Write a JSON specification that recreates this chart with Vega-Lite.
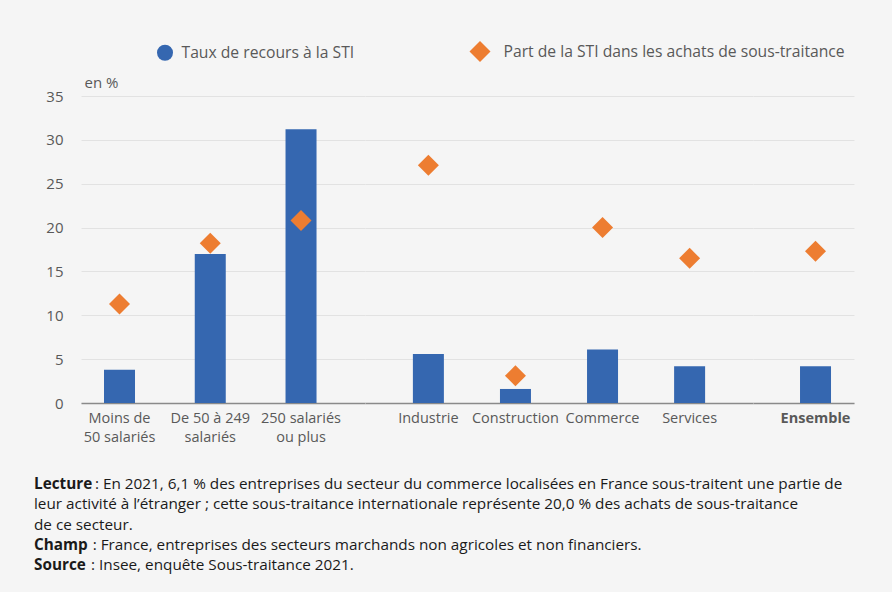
{
  "$schema": "https://vega.github.io/schema/vega-lite/v6.json",
  "background": "#f5f5f5",
  "padding": {"left": 34, "top": 40, "right": 38, "bottom": 20},
  "config": {
    "font": "Open Sans",
    "view": {"stroke": null},
    "axis": {"labelFont": "Open Sans", "titleFont": "Open Sans", "labelColor": "#595959", "titleColor": "#595959", "gridColor": "#e2e2e2", "gridWidth": 1},
    "legend": {"labelFont": "Open Sans", "symbolSize": 441, "labelLimit": 600}
  },
  "datasets": {
    "d": [
      {"group": "g1", "cat": "Moins de|50 salariés", "serie": "Taux de recours à la STI", "value": 3.8},
      {"group": "g1", "cat": "Moins de|50 salariés", "serie": "Part de la STI dans les achats de sous-traitance", "value": 11.3},
      {"group": "g1", "cat": "De 50 à 249|salariés", "serie": "Taux de recours à la STI", "value": 17.0},
      {"group": "g1", "cat": "De 50 à 249|salariés", "serie": "Part de la STI dans les achats de sous-traitance", "value": 18.2},
      {"group": "g1", "cat": "250 salariés|ou plus", "serie": "Taux de recours à la STI", "value": 31.2},
      {"group": "g1", "cat": "250 salariés|ou plus", "serie": "Part de la STI dans les achats de sous-traitance", "value": 20.8},
      {"group": "g2", "cat": "Industrie", "serie": "Taux de recours à la STI", "value": 5.6},
      {"group": "g2", "cat": "Industrie", "serie": "Part de la STI dans les achats de sous-traitance", "value": 27.1},
      {"group": "g2", "cat": "Construction", "serie": "Taux de recours à la STI", "value": 1.6},
      {"group": "g2", "cat": "Construction", "serie": "Part de la STI dans les achats de sous-traitance", "value": 3.1},
      {"group": "g2", "cat": "Commerce", "serie": "Taux de recours à la STI", "value": 6.1},
      {"group": "g2", "cat": "Commerce", "serie": "Part de la STI dans les achats de sous-traitance", "value": 20.0},
      {"group": "g2", "cat": "Services", "serie": "Taux de recours à la STI", "value": 4.2},
      {"group": "g2", "cat": "Services", "serie": "Part de la STI dans les achats de sous-traitance", "value": 16.5},
      {"group": "g3", "cat": "Ensemble", "serie": "Taux de recours à la STI", "value": 4.2},
      {"group": "g3", "cat": "Ensemble", "serie": "Part de la STI dans les achats de sous-traitance", "value": 17.3}
    ],
    "notes": [
      {"line": 1, "b": "Lecture", "t": ": En 2021, 6,1 % des entreprises du secteur du commerce localisées en France sous-traitent une partie de"},
      {"line": 2, "b": "", "t": "leur activité à l’étranger ; cette sous-traitance internationale représente 20,0 % des achats de sous-traitance"},
      {"line": 3, "b": "", "t": "de ce secteur."},
      {"line": 4, "b": "Champ", "t": ": France, entreprises des secteurs marchands non agricoles et non financiers."},
      {"line": 5, "b": "Source", "t": ": Insee, enquête Sous-traitance 2021."}
    ]
  },
  "spacing": 33,
  "vconcat": [
    {
      "data": {"name": "d"},
      "spacing": 0,
      "resolve": {"scale": {"x": "independent", "y": "shared", "color": "shared", "shape": "shared"}, "axis": {"x": "independent", "y": "independent"}},
      "hconcat": [
        {
          "width": 284, "height": 307,
          "transform": [{"filter": "datum.group === 'g1'"}],
          "encoding": {
            "x": {"field": "cat", "type": "nominal", "sort": ["Moins de|50 salariés", "De 50 à 249|salariés", "250 salariés|ou plus"],
                  "scale": {"paddingInner": 0.5, "paddingOuter": 0.3146, "align": 0.277},
                  "axis": {"title": null, "labelAngle": 0, "ticks": false, "domain": true, "domainColor": "#8a8a8a", "domainWidth": 1.5, "labelPadding": 8, "labelFontSize": 14.5, "labelLineHeight": 19, "labelExpr": "split(datum.value, '|')", "grid": false}},
            "y": {"field": "value", "type": "quantitative", "scale": {"domain": [0, 35], "nice": false},
                  "axis": {"values": [0, 5, 10, 15, 20, 25, 30, 35], "title": "en %", "titleAngle": 0, "titleAlign": "left", "titleBaseline": "middle", "titleX": 3, "titleY": -14, "titleFontSize": 15, "titleFontWeight": "normal", "labelFontSize": 15, "labelPadding": 18, "ticks": false, "domain": false, "grid": true}},
            "color": {"field": "serie", "type": "nominal",
                      "scale": {"domain": ["Taux de recours à la STI", "Part de la STI dans les achats de sous-traitance"], "range": ["#3567b0", "#ed7d31"]},
                      "legend": {"title": null, "orient": "none", "direction": "horizontal", "legendX": 72.5, "legendY": -56, "labelFontSize": 15.7, "labelColor": "#595959", "labelOffset": 5, "columnPadding": 114, "symbolOpacity": 1,
                                 "encode": {"symbols": {"update": {"size": {"signal": "datum.value === 'Taux de recours à la STI' ? 256 : 441"}}},
                                            "labels": {"update": {"dx": {"signal": "datum.value === 'Taux de recours à la STI' ? 0 : 7"}}}}}}
          },
          "layer": [
            {"transform": [{"filter": "datum.serie === 'Taux de recours à la STI'"}], "mark": {"type": "bar", "width": 31}},
            {"transform": [{"filter": "datum.serie !== 'Taux de recours à la STI'"}], "mark": {"type": "point", "filled": true, "opacity": 1, "size": 441},
             "encoding": {"shape": {"field": "serie", "type": "nominal", "scale": {"domain": ["Taux de recours à la STI", "Part de la STI dans les achats de sous-traitance"], "range": ["circle", "diamond"]}}}}
          ]
        },
        {
          "width": 388, "height": 307,
          "transform": [{"filter": "datum.group === 'g2'"}],
          "encoding": {
            "x": {"field": "cat", "type": "nominal", "sort": ["Industrie", "Construction", "Commerce", "Services"],
                  "scale": {"paddingInner": 0.5, "paddingOuter": 0.478, "align": 0.5},
                  "axis": {"title": null, "labelAngle": 0, "ticks": false, "domain": true, "domainColor": "#8a8a8a", "domainWidth": 1.5, "labelPadding": 8, "labelFontSize": 14.5, "labelLineHeight": 19, "grid": false}},
            "y": {"field": "value", "type": "quantitative", "scale": {"domain": [0, 35], "nice": false},
                  "axis": {"values": [0, 5, 10, 15, 20, 25, 30, 35], "title": null, "labels": false, "ticks": false, "domain": false, "grid": true}},
            "color": {"field": "serie", "type": "nominal",
                      "scale": {"domain": ["Taux de recours à la STI", "Part de la STI dans les achats de sous-traitance"], "range": ["#3567b0", "#ed7d31"]}}
          },
          "layer": [
            {"transform": [{"filter": "datum.serie === 'Taux de recours à la STI'"}], "mark": {"type": "bar", "width": 31}},
            {"transform": [{"filter": "datum.serie !== 'Taux de recours à la STI'"}], "mark": {"type": "point", "filled": true, "opacity": 1, "size": 441},
             "encoding": {"shape": {"field": "serie", "type": "nominal", "scale": {"domain": ["Taux de recours à la STI", "Part de la STI dans les achats de sous-traitance"], "range": ["circle", "diamond"]}}}}
          ]
        },
        {
          "width": 101, "height": 307,
          "transform": [{"filter": "datum.group === 'g3'"}],
          "encoding": {
            "x": {"field": "cat", "type": "nominal",
                  "scale": {"paddingInner": 0, "paddingOuter": 0.5, "align": 0.738},
                  "axis": {"title": null, "labelAngle": 0, "ticks": false, "domain": true, "domainColor": "#8a8a8a", "domainWidth": 1.5, "labelPadding": 8, "labelFontSize": 14.5, "labelFontWeight": "bold", "labelLineHeight": 19, "grid": false}},
            "y": {"field": "value", "type": "quantitative", "scale": {"domain": [0, 35], "nice": false},
                  "axis": {"values": [0, 5, 10, 15, 20, 25, 30, 35], "title": null, "labels": false, "ticks": false, "domain": false, "grid": true}},
            "color": {"field": "serie", "type": "nominal",
                      "scale": {"domain": ["Taux de recours à la STI", "Part de la STI dans les achats de sous-traitance"], "range": ["#3567b0", "#ed7d31"]}}
          },
          "layer": [
            {"transform": [{"filter": "datum.serie === 'Taux de recours à la STI'"}], "mark": {"type": "bar", "width": 31}},
            {"transform": [{"filter": "datum.serie !== 'Taux de recours à la STI'"}], "mark": {"type": "point", "filled": true, "opacity": 1, "size": 441},
             "encoding": {"shape": {"field": "serie", "type": "nominal", "scale": {"domain": ["Taux de recours à la STI", "Part de la STI dans les achats de sous-traitance"], "range": ["circle", "diamond"]}}}}
          ]
        }
      ]
    },
    {
      "data": {"name": "notes"},
      "width": 773, "height": 81.2,
      "encoding": {
        "y": {"field": "line", "type": "ordinal", "scale": {"type": "point", "padding": 0}, "axis": null}
      },
      "layer": [
        {"mark": {"type": "text", "align": "left", "baseline": "middle", "fontSize": 15.3, "fontWeight": "bold", "color": "#1a1a1a", "x": 0, "dx": -47},
         "encoding": {"text": {"field": "b"}}},
        {"transform": [{"filter": "datum.b === ''"}],
         "mark": {"type": "text", "align": "left", "baseline": "middle", "fontSize": 15.3, "color": "#1a1a1a", "x": 0, "dx": -47},
         "encoding": {"text": {"field": "t"}}},
        {"transform": [{"filter": "datum.b === 'Lecture'"}],
         "mark": {"type": "text", "align": "left", "baseline": "middle", "fontSize": 15.3, "color": "#1a1a1a", "x": 0, "dx": 14},
         "encoding": {"text": {"field": "t"}}},
        {"transform": [{"filter": "datum.b === 'Champ'"}],
         "mark": {"type": "text", "align": "left", "baseline": "middle", "fontSize": 15.3, "color": "#1a1a1a", "x": 0, "dx": 11.7},
         "encoding": {"text": {"field": "t"}}},
        {"transform": [{"filter": "datum.b === 'Source'"}],
         "mark": {"type": "text", "align": "left", "baseline": "middle", "fontSize": 15.3, "color": "#1a1a1a", "x": 0, "dx": 10},
         "encoding": {"text": {"field": "t"}}}
      ]
    }
  ]
}
